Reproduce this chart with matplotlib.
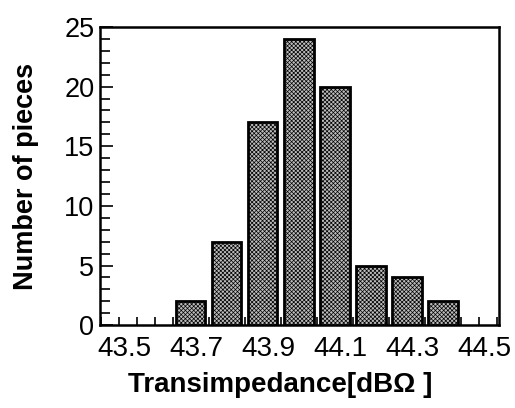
import matplotlib
matplotlib.use("Agg")
import matplotlib.pyplot as plt
from matplotlib.ticker import MultipleLocator
from matplotlib.transforms import ScaledTranslation

# Histogram of transimpedance across the measured pieces
bin_centers = [43.7, 43.8, 43.9, 44.0, 44.1, 44.2, 44.3, 44.4]
counts = [2, 7, 17, 24, 20, 5, 4, 2]
x_ticks = [43.5, 43.7, 43.9, 44.1, 44.3, 44.5]
x_tick_labels = ["43.5", "43.7", "43.9", "44.1", "44.3", "44.5"]
y_ticks = [0, 5, 10, 15, 20, 25]

plt.rcParams["font.family"] = ["Liberation Sans", "DejaVu Sans"]
plt.rcParams["hatch.color"] = "#707070"
plt.rcParams["hatch.linewidth"] = 0.5

fig = plt.figure(figsize=(5.15, 4.08), dpi=100)
ax = fig.add_axes([0.194, 0.203, 0.775, 0.731])

ax.bar(bin_centers, counts, width=0.082, color="#bcbcbc", edgecolor="black",
       linewidth=2.0, hatch="xxxxxxxx", zorder=3)

ax.set_xlim(43.448, 44.556)
ax.set_ylim(0, 25)
ax.set_xticks(x_ticks)
ax.set_xticklabels(x_tick_labels)
ax.set_yticks(y_ticks)
ax.xaxis.set_minor_locator(MultipleLocator(0.05))
ax.yaxis.set_minor_locator(MultipleLocator(1))

ax.tick_params(axis="both", which="both", direction="in",
               width=1.2, top=False, right=False)
ax.tick_params(axis="x", which="major", length=6, pad=8, labelsize=20)
ax.tick_params(axis="x", which="minor", length=6)
ax.tick_params(axis="y", which="major", length=9, pad=4, labelsize=19.5)
ax.tick_params(axis="y", which="minor", length=7)

# nudge the x tick labels slightly to the right of their ticks
shift = ScaledTranslation(6 / 100, 0, fig.dpi_scale_trans)
for lbl in ax.get_xticklabels():
    lbl.set_transform(lbl.get_transform() + shift)

for side in ax.spines.values():
    side.set_linewidth(1.8)

ax.set_xlabel("Transimpedance[dB\u03a9 ]", fontsize=20, fontweight="bold", labelpad=7)
ax.xaxis.label.set_x(0.451)
ax.set_ylabel("Number of pieces", fontsize=19.5, fontweight="bold", labelpad=18)

fig.savefig("out.png", dpi=100)
